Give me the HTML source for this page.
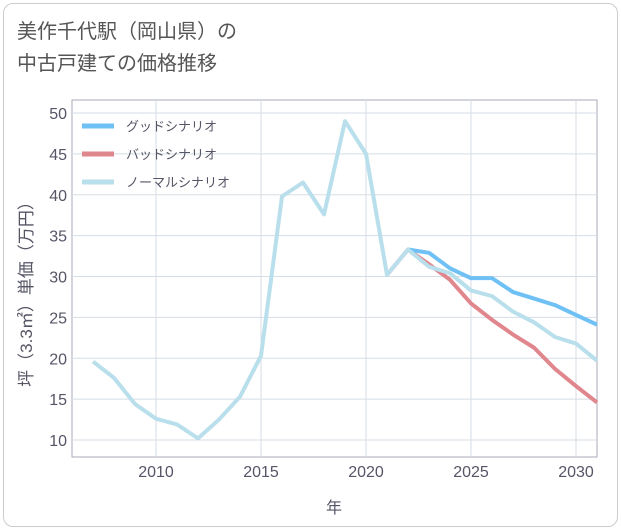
<!DOCTYPE html>
<html><head><meta charset="utf-8"><style>
body{margin:0;background:#fff;font-family:"Liberation Sans","Noto Sans CJK JP",sans-serif}
.card{position:absolute;left:3px;top:3px;width:613px;height:522px;border:1px solid #ccc;border-radius:10px;background:#fff}
.title{position:absolute;left:17px;top:16px;font-size:20px;line-height:32px;color:#555}
</style></head><body>
<div class="card"></div>
<div class="title">美作千代駅（岡山県）の<br>中古戸建ての価格推移</div>
<svg id="c" width="621" height="530" style="position:absolute;left:0;top:0"></svg>
<script>
const years=[2007,2008,2009,2010,2011,2012,2013,2014,2015,2016,2017,2018,2019,2020,2021,2022,2023,2024,2025,2026,2027,2028,2029,2030,2031];
const normal=[19.6,17.6,14.4,12.6,11.9,10.2,12.5,15.3,20.3,39.8,41.5,37.6,49,45,30.2,33.3,31.2,30.4,28.3,27.6,25.7,24.4,22.6,21.8,19.7];
const goodYears=[2022,2023,2024,2025,2026,2027,2028,2029,2030,2031];
const good=[33.3,32.9,31,29.8,29.8,28.1,27.3,26.5,25.3,24.1];
const badYears=[2021,2022,2023,2024,2025,2026,2027,2028,2029,2030,2031];
const bad=[30.2,33.3,31.5,29.6,26.7,24.7,22.9,21.3,18.7,16.6,14.6];
const xTicks=[2010,2015,2020,2025,2030];
const yTicks=[10,15,20,25,30,35,40,45,50];
const L=72,R=597,T=100,B=457;
const X=y=>156+(y-2010)*21;
const Y=v=>440-(v-10)*8.175;
const s=document.getElementById('c');const NS='http://www.w3.org/2000/svg';
function el(t,a,p){const e=document.createElementNS(NS,t);for(const k in a)e.setAttribute(k,a[k]);(p||s).appendChild(e);return e;}
const bg=el('rect',{x:L,y:T,width:R-L,height:B-T,fill:'#fff',stroke:'#aab',"stroke-width":1});


xTicks.forEach(t=>{const g=el('line',{x1:X(t),x2:X(t),y1:T,y2:B,stroke:'#d5dde5'});


const tx=el('text',{x:X(t),y:477,"text-anchor":"middle","font-size":16,fill:'#556'});tx.textContent=t;

});
yTicks.forEach(t=>{const g=el('line',{x1:L,x2:R,y1:Y(t),y2:Y(t),stroke:'#d5dde5'});


const tx=el('text',{x:67,y:Y(t)+6,"text-anchor":"end","font-size":16,fill:'#556'});tx.textContent=t;

});
function line(xs,vs,c,n){const p=el('polyline',{points:xs.map((x,i)=>X(x)+','+Y(vs[i])).join(' '),fill:'none',stroke:c,"stroke-width":4,"stroke-linejoin":"round"});

}
line(badYears,bad,'#e0868d','bad-scenario-line');
line(goodYears,good,'#6ec0f5','good-scenario-line');
line(years,normal,'#b8dfeb','normal-scenario-line');
const leg=[['グッドシナリオ','#6ec0f5',126],['バッドシナリオ','#e0868d',154],['ノーマルシナリオ','#b8dfeb',182]];
leg.forEach(l=>{const ln=el('line',{x1:82,x2:114,y1:l[2],y2:l[2],stroke:l[1],"stroke-width":5});


const t=el('text',{x:126,y:l[2]+5,"font-size":13,fill:'#556'});t.textContent=l[0];

});
const xt=el('text',{x:334,y:513,"text-anchor":"middle","font-size":16,fill:'#556'});xt.textContent='年';


const yt=el('text',{x:0,y:0,"text-anchor":"middle","font-size":17,fill:'#556',transform:'translate(32,290) rotate(-90)'});yt.textContent='坪（3.3㎡）単価（万円）';


</script>
</body></html>
